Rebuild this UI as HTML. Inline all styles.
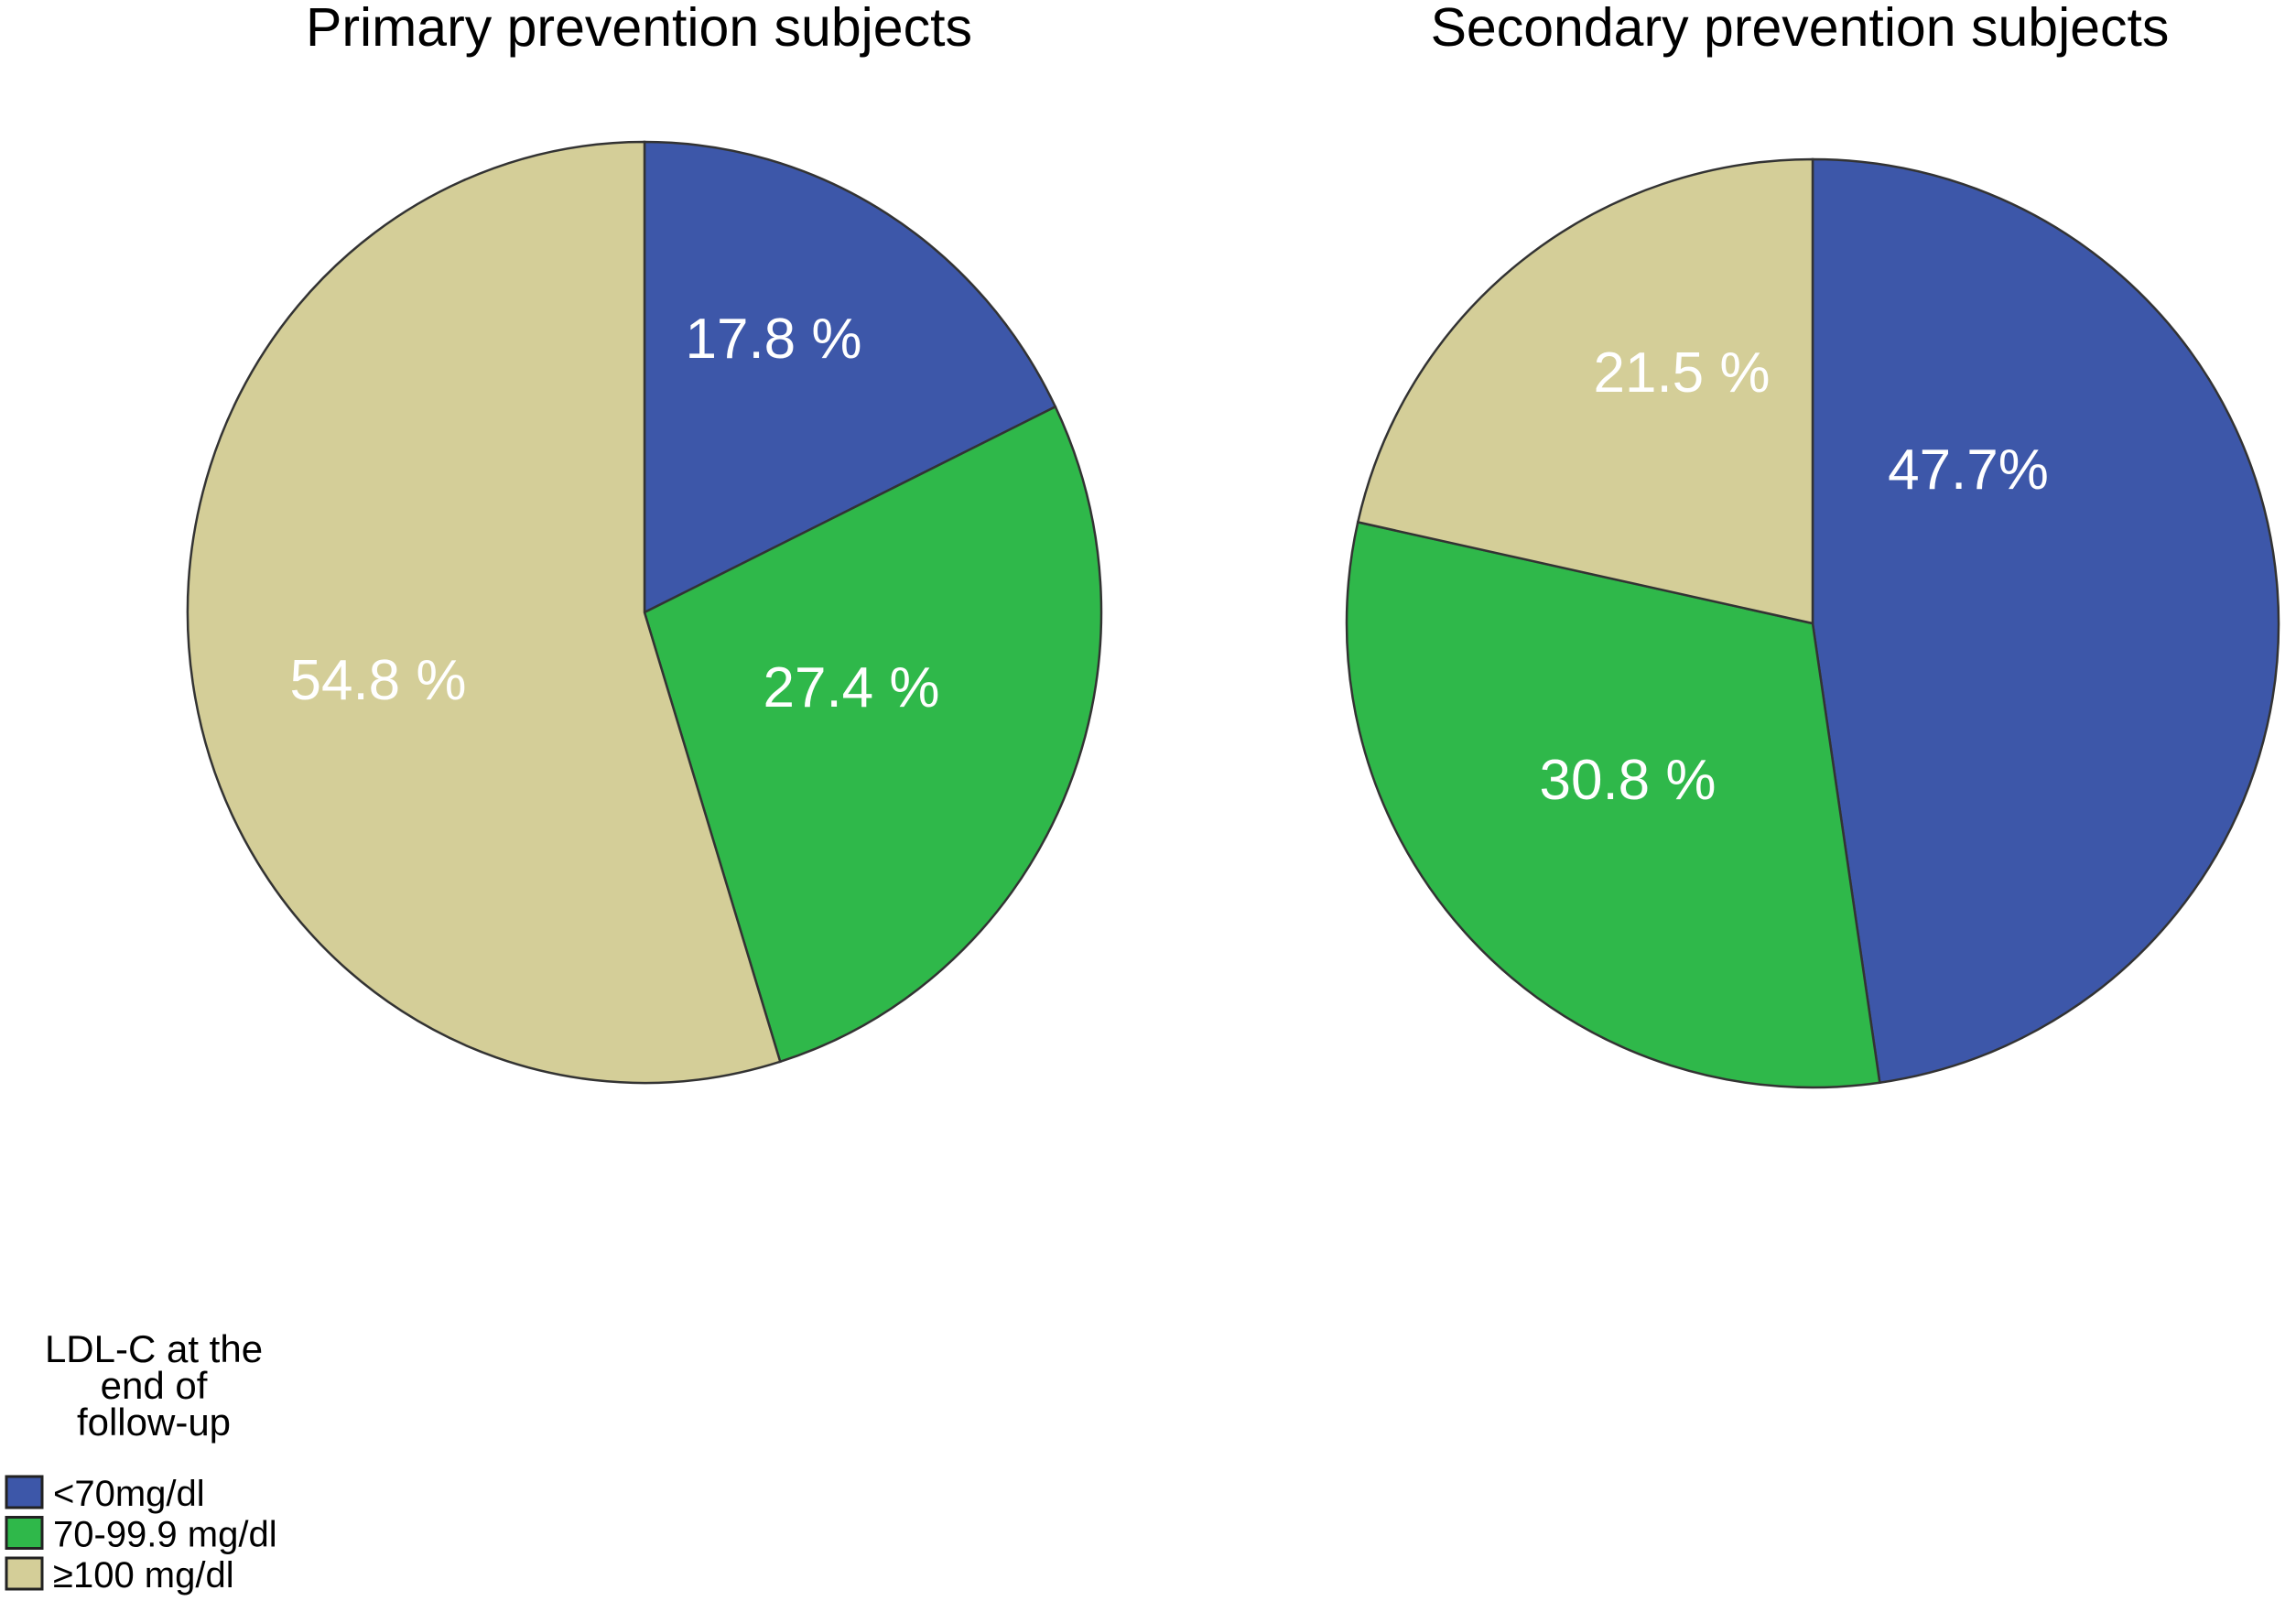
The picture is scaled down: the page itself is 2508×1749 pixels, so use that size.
<!DOCTYPE html>
<html><head><meta charset="utf-8"><style>
html,body{margin:0;padding:0;background:#fff;}
svg{display:block;font-family:"Liberation Sans",Arial,sans-serif;}
</style></head><body>
<svg id="c" width="2508" height="1749" viewBox="0 0 2508 1749">
<text x="698" y="50" font-size="59" text-anchor="middle">Primary prevention subjects</text>
<text x="1966" y="50" font-size="59" text-anchor="middle">Secondary prevention subjects</text>
<g id="pies"></g>
<g>
<text x="168" y="1488" font-size="42" text-anchor="middle">LDL-C at the</text>
<text x="168" y="1528" font-size="42" text-anchor="middle">end of</text>
<text x="168" y="1568" font-size="42" text-anchor="middle">follow-up</text>
<g id="leg"></g>
</g>
</svg>
<script>
const categories = ["<70mg/dl", "70-99.9 mg/dl", "\u2265100 mg/dl"];
const primaryValues = [17.8, 27.4, 54.8];
const secondaryValues = [47.7, 30.8, 21.5];
const primaryLabels = ["17.8 %", "27.4 %", "54.8 %"];
const secondaryLabels = ["47.7%", "30.8 %", "21.5 %"];
const colors = ["#3d57a9", "#2fb84a", "#d4ce98"];
const NS = "http://www.w3.org/2000/svg";
const pies = document.getElementById("pies");
const primaryLabelLayout = [[141, -278], [226, 103], [-291, 95]];
const secondaryLabelLayout = [[170, -147], [-202, 192], [-143, -253]];
function drawPie(vals, labels, layout, cx, cy, rx, ry, name) {
  const total = vals.reduce((a, b) => a + b, 0);
  let acc = 0;
  vals.forEach((v, i) => {
    const a0 = acc / total * 2 * Math.PI; acc += v;
    const a1 = acc / total * 2 * Math.PI;
    const x0 = cx + rx * Math.sin(a0), y0 = cy - ry * Math.cos(a0);
    const x1 = cx + rx * Math.sin(a1), y1 = cy - ry * Math.cos(a1);
    const large = (a1 - a0) > Math.PI ? 1 : 0;
    const p = document.createElementNS(NS, "path");
    p.setAttribute("d", `M${cx},${cy} L${x0},${y0} A${rx},${ry} 0 ${large} 1 ${x1},${y1} Z`);
    p.setAttribute("fill", colors[i]);
    p.setAttribute("stroke", "#333");
    p.setAttribute("stroke-width", "2.5");
    
    
    pies.appendChild(p);
  });
  vals.forEach((v, i) => {
    const t = document.createElementNS(NS, "text");
    t.setAttribute("x", cx + layout[i][0]);
    t.setAttribute("y", cy + layout[i][1]);
    t.setAttribute("font-size", "62");
    t.setAttribute("fill", "#fff");
    t.setAttribute("text-anchor", "middle");
    t.textContent = labels[i];
    
    
    pies.appendChild(t);
  });
}
drawPie(primaryValues, primaryLabels, primaryLabelLayout, 704, 669, 499, 514, "primary");
drawPie(secondaryValues, secondaryLabels, secondaryLabelLayout, 1980, 681, 509, 507, "secondary");
const leg = document.getElementById("leg");
categories.forEach((c, i) => {
  const y = 1613 + i * 44.5;
  const r = document.createElementNS(NS, "rect");
  r.setAttribute("x", 7); r.setAttribute("y", y);
  r.setAttribute("width", 39); r.setAttribute("height", 34);
  r.setAttribute("fill", colors[i]); r.setAttribute("stroke", "#222"); r.setAttribute("stroke-width", "3");
  
  
  leg.appendChild(r);
  const t = document.createElementNS(NS, "text");
  t.setAttribute("x", 58); t.setAttribute("y", y + 32);
  t.setAttribute("font-size", "40");
  t.textContent = c;
  
  
  leg.appendChild(t);
});
</script>
</body></html>
